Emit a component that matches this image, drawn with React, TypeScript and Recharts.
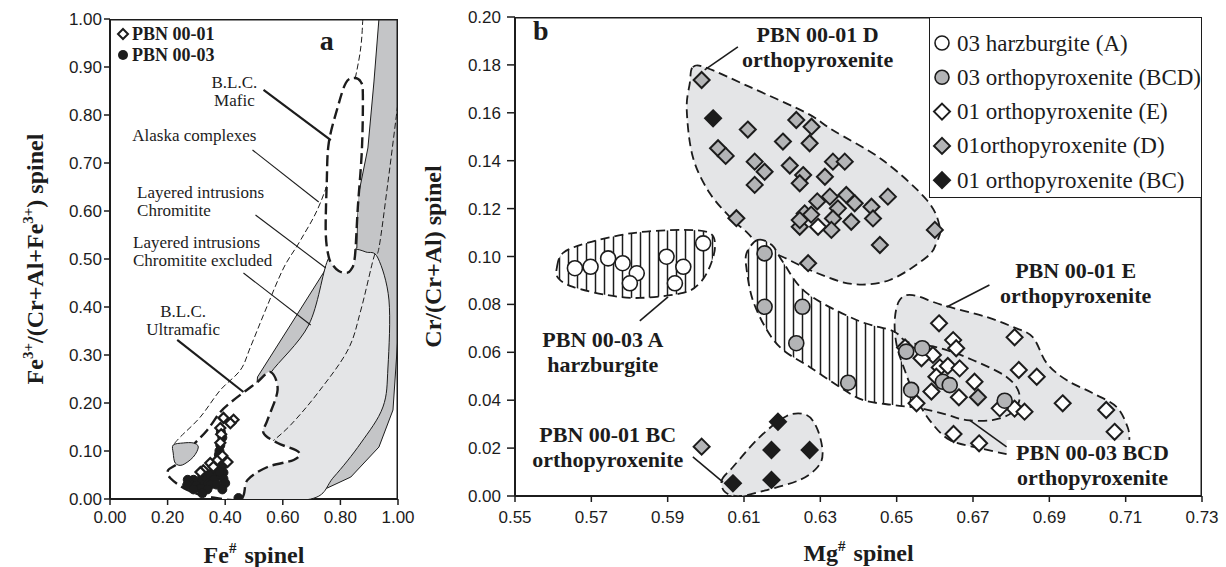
import React from 'react';
import { ScatterChart, Scatter, XAxis, YAxis } from 'recharts';

const SERIF = '"Liberation Serif", "Times New Roman", Times, serif';
const SANS = '"Liberation Sans", Arial, Helvetica, sans-serif';
const INK = '#1c1c1c';
const LIGHT = '#e4e5e7';
const DARK = '#c4c5c7';
const MARK_GRAY = '#b3b4b6';

// ---- axis ticks ----
const A_X_TICKS = [0, 0.2, 0.4, 0.6, 0.8, 1];
const A_Y_TICKS = [0, 0.1, 0.2, 0.3, 0.4, 0.5, 0.6, 0.7, 0.8, 0.9, 1];
const B_X_TICKS = [0.55, 0.57, 0.59, 0.61, 0.63, 0.65, 0.67, 0.69, 0.71, 0.73];
const B_Y_TICKS = [0, 0.02, 0.04, 0.06, 0.08, 0.1, 0.12, 0.14, 0.16, 0.18, 0.2];

// frame (top and right edges of each plot)
const FRAME_A = [[0, 1], [1, 1], [1, 0]];
const FRAME_B = [[0.55, 0.2], [0.73, 0.2], [0.73, 0]];

// ---- panel a: Fe# vs Fe3+/(Cr+Al+Fe3+) ----
const PBN01_A = [
  [0.394, 0.169], [0.429, 0.165], [0.418, 0.158], [0.383, 0.148], [0.386, 0.135], [0.383, 0.117],
  [0.373, 0.081], [0.408, 0.077], [0.348, 0.075], [0.359, 0.067], [0.324, 0.06], [0.314, 0.056], [0.39, 0.09],
];
const PBN03_A = [
  [0.385, 0.14], [0.39, 0.128], [0.383, 0.112], [0.38, 0.1], [0.378, 0.092], [0.385, 0.08], [0.39, 0.068],
  [0.394, 0.055], [0.394, 0.042], [0.4, 0.033], [0.37, 0.048], [0.36, 0.057], [0.38, 0.057], [0.345, 0.05],
  [0.36, 0.04], [0.338, 0.033], [0.35, 0.03], [0.37, 0.03], [0.39, 0.02], [0.32, 0.045], [0.31, 0.033],
  [0.29, 0.04], [0.27, 0.04], [0.28, 0.03], [0.3, 0.028], [0.314, 0.022], [0.338, 0.02], [0.268, 0.029],
  [0.29, 0.02], [0.32, 0.012], [0.446, 0.002],
];

// field outlines (panel a)
const LAYERED_ALL = [
  [0.9338, 1], [0.999, 1], [0.999, 0.3313], [0.9826, 0.1854], [0.9338, 0.1083], [0.8362, 0.0458], [0.7247, 0.0146],
  [0.662, 0], [0.4355, 0], [0.4878, 0.0604], [0.5122, 0.2542], [0.6376, 0.3729], [0.7735, 0.5021],
  [0.8188, 0.5146], [0.8571, 0.5229], [0.8606, 0.6271], [0.8955, 0.7313], [0.9164, 0.8688],
];
const LAYERED_EXCL = [
  [0.4355, 0], [0.4878, 0.0604], [0.5296, 0.1438], [0.5401, 0.2271], [0.5575, 0.2625], [0.6899, 0.3625],
  [0.7561, 0.4979], [0.8014, 0.5146], [0.8467, 0.5208], [0.8885, 0.5146], [0.9303, 0.5021], [0.9686, 0.4146],
  [0.9652, 0.275], [0.9477, 0.1917], [0.8711, 0.1167], [0.777, 0.0458], [0.6969, 0],
];
const ALASKA_LEFT = [
  [0.878, 1], [0.8641, 0.9146], [0.8014, 0.7479], [0.7317, 0.6188], [0.662, 0.5396], [0.6028, 0.4813],
  [0.5401, 0.3938], [0.4878, 0.3167], [0.453, 0.2688], [0.3833, 0.2271], [0.3136, 0.1708], [0.2439, 0.1292],
  [0.2195, 0.1125],
];
const ALASKA_RIGHT = [
  [0.999, 0.8208], [0.9652, 0.6604], [0.9338, 0.5229], [0.9164, 0.5042], [0.8711, 0.3938], [0.8258, 0.3104],
  [0.7213, 0.2208], [0.6272, 0.1542], [0.5575, 0.1167],
];
const BLC_ULTRAMAFIC = [
  [0.5575, 0.2646], [0.5819, 0.2271], [0.547, 0.1646], [0.5331, 0.1375], [0.5819, 0.1167], [0.655, 0.0979],
  [0.6376, 0.0813], [0.547, 0.0667], [0.4774, 0.0396], [0.453, 0], [0.3484, 0.0042], [0.2683, 0.0188],
  [0.2091, 0.0438], [0.2021, 0.0604], [0.2369, 0.075], [0.2892, 0.1125], [0.338, 0.1438], [0.3833, 0.1813],
  [0.4251, 0.2042], [0.4704, 0.225], [0.5122, 0.2438],
];
const BLC_MAFIC = [
  [0.8467, 0.8771], [0.8711, 0.8688], [0.878, 0.8417], [0.8746, 0.7271], [0.8606, 0.6083], [0.8502, 0.5042],
  [0.8362, 0.4771], [0.8188, 0.4708], [0.7944, 0.475], [0.7735, 0.4875], [0.7596, 0.5042], [0.7491, 0.5542],
  [0.7526, 0.6583], [0.7596, 0.7417], [0.7909, 0.8167], [0.8188, 0.8667],
];
const CHROMITITE_LENS = [
  [0.2195, 0.1125], [0.2544, 0.1167], [0.2892, 0.1167], [0.3066, 0.1083], [0.2892, 0.0875], [0.2509, 0.0708],
  [0.2265, 0.075], [0.2195, 0.0958],
];
const LEAD_MAFIC = [[0.5331, 0.8521], [0.7666, 0.7479]];
const LEAD_ALASKA = [[0.4948, 0.7271], [0.7247, 0.6188]];
const LEAD_CHROM = [[0.5052, 0.5917], [0.7491, 0.4813]];
const LEAD_EXCL = [[0.4634, 0.4708], [0.6969, 0.3625]];
const LEAD_ULTRA = [[0.2334, 0.3313], [0.4634, 0.2229]];

// ---- panel b: Mg# vs Cr/(Cr+Al) ----
const HARZ_03_A = [
  [0.5657, 0.0951], [0.5698, 0.0957], [0.5744, 0.0992], [0.5782, 0.0972], [0.5819, 0.093], [0.5801, 0.0888],
  [0.5897, 0.0999], [0.5941, 0.0957], [0.5919, 0.0888], [0.5993, 0.1055],
];
const OPX_03_BCD = [
  [0.6154, 0.1013], [0.6154, 0.079], [0.6253, 0.079], [0.6237, 0.0638], [0.6373, 0.0473], [0.6525, 0.0603],
  [0.6567, 0.0617], [0.6538, 0.0443], [0.6621, 0.0477], [0.6639, 0.0463], [0.6783, 0.0398],
];
const OPX_01_E = [
  [0.6611, 0.0721], [0.6648, 0.0651], [0.6656, 0.0617], [0.6595, 0.0589], [0.6565, 0.0575], [0.6613, 0.0537],
  [0.6634, 0.0543], [0.6665, 0.0533], [0.6604, 0.0498], [0.6704, 0.0477], [0.6591, 0.0436], [0.6663, 0.0412],
  [0.6809, 0.0663], [0.682, 0.0526], [0.6867, 0.0498], [0.6809, 0.0365], [0.6835, 0.0352], [0.677, 0.0366],
  [0.6935, 0.0387], [0.7049, 0.0359], [0.7071, 0.0268], [0.6649, 0.0259], [0.6716, 0.022], [0.6552, 0.0387],
  [0.6522, 0.062], [0.6294, 0.1124],
];
const OPX_01_D = [
  [0.5989, 0.1737], [0.6032, 0.1452], [0.6052, 0.142], [0.611, 0.153], [0.6128, 0.1396], [0.6154, 0.1354],
  [0.6128, 0.1299], [0.608, 0.116], [0.6202, 0.148], [0.6237, 0.157], [0.6277, 0.1542], [0.6272, 0.1473],
  [0.622, 0.138], [0.6255, 0.134], [0.6246, 0.1306], [0.6259, 0.118], [0.6246, 0.1124], [0.6268, 0.0972],
  [0.6333, 0.1396], [0.6364, 0.1396], [0.6312, 0.1333], [0.6325, 0.125], [0.6368, 0.1257], [0.6346, 0.1201],
  [0.639, 0.1222], [0.6434, 0.1208], [0.6477, 0.125], [0.6333, 0.1159], [0.6381, 0.1145], [0.6438, 0.1159],
  [0.6329, 0.1111], [0.6456, 0.1048], [0.66, 0.1111], [0.6246, 0.1152], [0.6276, 0.1175], [0.6292, 0.123],
  [0.5989, 0.0206], [0.6713, 0.0412],
];
const OPX_01_BC = [
  [0.6019, 0.1577], [0.6189, 0.031], [0.6172, 0.0192], [0.6272, 0.0192], [0.6071, 0.0053], [0.6172, 0.0067],
];

// field outlines (panel b)
const FIELD_D = [
  [0.5966, 0.1791], [0.6003, 0.1787], [0.6115, 0.1708], [0.6264, 0.1599], [0.6332, 0.1528], [0.6463, 0.1403],
  [0.6579, 0.1236], [0.6613, 0.1123], [0.6605, 0.1061], [0.6579, 0.0998], [0.6482, 0.0902], [0.6385, 0.0885],
  [0.6291, 0.0931], [0.6202, 0.0998], [0.6149, 0.1035], [0.6107, 0.1102], [0.6071, 0.1152], [0.601, 0.1265],
  [0.5966, 0.1415], [0.595, 0.1612], [0.5958, 0.1724],
];
const FIELD_A = [
  [0.561, 0.0956], [0.5626, 0.1015], [0.5688, 0.1056], [0.5809, 0.1098], [0.594, 0.1111], [0.601, 0.1098],
  [0.6024, 0.104], [0.601, 0.0956], [0.5984, 0.0889], [0.594, 0.0848], [0.5827, 0.0827], [0.5741, 0.0839],
  [0.5652, 0.0873], [0.5613, 0.091],
];
const FIELD_BCD = [
  [0.6136, 0.1069], [0.6107, 0.1015], [0.6107, 0.0944], [0.6123, 0.0818], [0.616, 0.0693], [0.6202, 0.061],
  [0.6272, 0.0539], [0.6351, 0.0455], [0.6411, 0.0401], [0.649, 0.038], [0.656, 0.0367], [0.6626, 0.0342],
  [0.6683, 0.0317], [0.6751, 0.0317], [0.6804, 0.0351], [0.6822, 0.0422], [0.6788, 0.0497], [0.6699, 0.0568],
  [0.6613, 0.0618], [0.6529, 0.0643], [0.649, 0.0689], [0.6395, 0.0735], [0.6264, 0.0848], [0.6202, 0.0977],
  [0.6173, 0.1048],
];
const FIELD_E = [
  [0.6788, 0.0175], [0.6717, 0.02], [0.6639, 0.0234], [0.6586, 0.0317], [0.6547, 0.0422], [0.6521, 0.0526],
  [0.65, 0.063], [0.6495, 0.0735], [0.6508, 0.0818], [0.6542, 0.0839], [0.662, 0.0797], [0.6736, 0.0747],
  [0.6804, 0.0706], [0.6856, 0.0664], [0.6893, 0.0555], [0.6945, 0.0484], [0.7013, 0.043], [0.7076, 0.0372],
  [0.7105, 0.0288], [0.711, 0.0234], [0.6788, 0.0234],
];
const FIELD_BC = [
  [0.6042, 0.0067], [0.6071, 0.0121], [0.6141, 0.0246], [0.6212, 0.0334], [0.6264, 0.0338], [0.6293, 0.0276],
  [0.6306, 0.018], [0.6293, 0.0121], [0.6246, 0.0067], [0.616, 0.0025], [0.6089, 0], [0.605, 0.0017],
];
const LEAD_D = [[0.6084, 0.1875], [0.5997, 0.1779]];
const LEAD_A = [[0.5827, 0.0731], [0.5901, 0.0831]];
const LEAD_BC = [[0.5966, 0.0163], [0.6045, 0.0058]];
const LEAD_E = [[0.6743, 0.0881], [0.6631, 0.0789]];
const LEAD_BCD = [[0.6788, 0.0205], [0.6691, 0.0317]];

// ---- text ----
const NOTES_A = [
  { x: 0.432, y: 0.856, lines: ['B.L.C.', 'Mafic'], kind: 'field', anchor: 'middle' },
  { x: 0.293, y: 0.746, lines: ['Alaska complexes'], kind: 'field', anchor: 'middle' },
  { x: 0.094, y: 0.627, lines: ['Layered intrusions', 'Chromitite'], kind: 'field', anchor: 'start' },
  { x: 0.08, y: 0.523, lines: ['Layered intrusions', 'Chromitite excluded'], kind: 'field', anchor: 'start' },
  { x: 0.254, y: 0.379, lines: ['B.L.C.', 'Ultramafic'], kind: 'field', anchor: 'middle' },
  { x: 0.753, y: 0.935, lines: ['a'], kind: 'panel', anchor: 'middle' },
];
const NOTES_B = [
  { x: 0.5547, y: 0.1904, lines: ['b'], kind: 'panel', anchor: 'start' },
  { x: 0.6293, y: 0.1896, lines: ['PBN 00-01 D', 'orthopyroxenite'], kind: 'group', anchor: 'middle' },
  { x: 0.573, y: 0.0622, lines: ['PBN 00-03 A', 'harzburgite'], kind: 'group', anchor: 'middle' },
  { x: 0.5743, y: 0.0225, lines: ['PBN 00-01 BC', 'orthopyroxenite'], kind: 'group', anchor: 'middle' },
  { x: 0.6969, y: 0.091, lines: ['PBN 00-01 E', 'orthopyroxenite'], kind: 'group', anchor: 'middle' },
  { x: 0.7013, y: 0.015, lines: ['PBN 00-03 BCD', 'orthopyroxenite'], kind: 'group', anchor: 'middle' },
];
const LEGEND_A = ['PBN 00-01', 'PBN 00-03'];
const LEGEND_B = [
  '03 harzburgite (A)',
  '03 orthopyroxenite (BCD)',
  '01 orthopyroxenite (E)',
  '01orthopyroxenite (D)',
  '01 orthopyroxenite (BC)',
];

const NOTE_STYLE: Record<string, { size: number; weight: number; lh: number }> = {
  field: { size: 17, weight: 400, lh: 18 },
  panel: { size: 28, weight: 700, lh: 0 },
  group: { size: 22, weight: 700, lh: 25 },
};

type Pt = { x: number; y: number };
const xy = (a: number[][]) => a.map(([x, y]) => ({ x, y }));

// Catmull-Rom through the scaled points
const curvePath = (p: Pt[], closed: boolean) => {
  const n = p.length;
  if (n < 2) return '';
  const at = (i: number) => (closed ? p[(i + n) % n] : p[Math.max(0, Math.min(n - 1, i))]);
  let d = `M${p[0].x},${p[0].y}`;
  const segs = closed ? n : n - 1;
  for (let i = 0; i < segs; i++) {
    const p0 = at(i - 1), p1 = at(i), p2 = at(i + 1), p3 = at(i + 2);
    d += `C${p1.x + (p2.x - p0.x) / 6},${p1.y + (p2.y - p0.y) / 6} ${p2.x - (p3.x - p1.x) / 6},${p2.y - (p3.y - p1.y) / 6} ${p2.x},${p2.y}`;
  }
  return closed ? d + 'Z' : d;
};
const straightPath = (p: Pt[], closed: boolean) =>
  p.map((q, i) => `${i ? 'L' : 'M'}${q.x},${q.y}`).join('') + (closed ? 'Z' : '');

type RegionStyle = {
  fill?: string; stroke?: string; width?: number; dash?: string;
  closed?: boolean; smooth?: boolean; tail?: number;
};

const region = (st: RegionStyle) => (props: any) => {
  const all: Pt[] = (props.points ?? []).filter((q: any) => q && Number.isFinite(q.x) && Number.isFinite(q.y));
  const tail = st.tail ?? 0;
  const body = tail ? all.slice(0, all.length - tail) : all;
  const rest = tail ? all.slice(all.length - tail) : [];
  const closed = (st.closed ?? true) && !tail;
  const build = st.smooth === false ? straightPath : curvePath;
  const outline = build(body, closed);
  const fillD = tail ? outline + rest.map((q) => `L${q.x},${q.y}`).join('') + 'Z' : outline;
  return (
    <g>
      {st.fill && <path d={fillD} fill={st.fill} stroke="none" />}
      {st.stroke && (
        <path d={outline} fill="none" stroke={st.stroke} strokeWidth={st.width ?? 1}
          strokeDasharray={st.dash} strokeLinejoin="round" />
      )}
    </g>
  );
};

const NoMark = () => <g />;
const circleMark = (r: number, fill: string, sw: number) => (p: any) => (
  <circle cx={p.cx} cy={p.cy} r={r} fill={fill} stroke={INK} strokeWidth={sw} />
);
const diamondMark = (h: number, fill: string, sw: number) => (p: any) => (
  <path d={`M${p.cx},${p.cy - h}L${p.cx + h},${p.cy}L${p.cx},${p.cy + h}L${p.cx - h},${p.cy}Z`}
    fill={fill} stroke={INK} strokeWidth={sw} />
);
const noteMark = (p: any) => {
  const n = p.payload;
  const s = NOTE_STYLE[n.kind];
  return (
    <text x={p.cx} y={p.cy} textAnchor={n.anchor} fontFamily={SERIF} fontSize={s.size}
      fontWeight={s.weight} fill={INK}>
      {n.lines.map((ln: string, i: number) => (
        <tspan key={i} x={p.cx} dy={i ? s.lh : 0}>{ln}</tspan>
      ))}
    </text>
  );
};

const fmt2 = (v: number) => v.toFixed(2);
const TICK = { fontFamily: SANS, fontSize: 17, fill: INK };
const TICK_LINE = { stroke: INK, strokeWidth: 1.5 };
const AXIS_LINE = { stroke: INK, strokeWidth: 2 };
const TITLE = { fontFamily: SERIF, fontWeight: 700, fontSize: 24, fill: INK };

const titleAX = (p: any) => {
  const vb = p.viewBox ?? { x: 110, y: 499, width: 288, height: 30 };
  return (
    <text x={vb.x + vb.width / 2} y={vb.y + 64} textAnchor="middle" {...TITLE}>
      Fe<tspan dy={-10} fontSize={15}>#</tspan><tspan dy={10} dx={8}>spinel</tspan>
    </text>
  );
};
const titleAY = (p: any) => {
  const vb = p.viewBox ?? { x: 50, y: 19, width: 60, height: 480 };
  const bx = vb.x - 7, cy = vb.y + vb.height / 2;
  return (
    <text x={bx} y={cy} transform={`rotate(-90 ${bx} ${cy})`} textAnchor="middle" {...TITLE}>
      Fe<tspan dy={-10} fontSize={15}>3+</tspan><tspan dy={10}>/(Cr+Al+Fe</tspan>
      <tspan dy={-10} fontSize={15}>3+</tspan><tspan dy={10}>) spinel</tspan>
    </text>
  );
};
const titleBX = (p: any) => {
  const vb = p.viewBox ?? { x: 95, y: 496, width: 687, height: 30 };
  return (
    <text x={vb.x + vb.width / 2} y={vb.y + 65} textAnchor="middle" {...TITLE}>
      Mg<tspan dy={-10} fontSize={15}>#</tspan><tspan dy={10} dx={8}>spinel</tspan>
    </text>
  );
};
const titleBY = (p: any) => {
  const vb = p.viewBox ?? { x: 35, y: 17, width: 60, height: 479 };
  const bx = vb.x - 14, cy = vb.y + vb.height / 2;
  return (
    <text x={bx} y={cy} transform={`rotate(-90 ${bx} ${cy})`} textAnchor="middle" {...TITLE}>
      Cr/(Cr+Al) spinel
    </text>
  );
};

const fieldScatter = (key: string, data: number[][], st: RegionStyle) => (
  <Scatter key={key} data={xy(data)} line={region(st)} shape={NoMark} isAnimationActive={false} />
);
const leadScatter = (key: string, data: number[][], w: number) =>
  fieldScatter(key, data, { stroke: INK, width: w, closed: false, smooth: false });

const THICK_DASH: RegionStyle = { fill: '#ffffff', stroke: INK, width: 2.4, dash: '11 5' };
const THIN_DASH: RegionStyle = { stroke: INK, width: 1, dash: '6 3', closed: false };
const B_DASH = { stroke: INK, width: 1.8, dash: '9 5' };

const PanelA = () => (
  <ScatterChart width={420} height={567} margin={{ top: 19, right: 22, bottom: 38, left: 50 }}>
    <XAxis dataKey="x" type="number" domain={[0, 1]} ticks={A_X_TICKS} interval={0} allowDataOverflow
      tickFormatter={fmt2} tick={TICK} tickSize={6} tickMargin={6} tickLine={TICK_LINE} axisLine={AXIS_LINE}
      height={30} label={titleAX} />
    <YAxis dataKey="y" type="number" domain={[0, 1]} ticks={A_Y_TICKS} interval={0} allowDataOverflow
      tickFormatter={fmt2} tick={TICK} tickSize={6} tickMargin={2} tickLine={TICK_LINE} axisLine={AXIS_LINE}
      width={60} label={titleAY} />

    {fieldScatter('layered', LAYERED_ALL, { fill: DARK, stroke: INK, width: 1, smooth: false })}
    {fieldScatter('excl', LAYERED_EXCL, { fill: LIGHT, stroke: INK, width: 1 })}
    {fieldScatter('alaskaL', ALASKA_LEFT, THIN_DASH)}
    {fieldScatter('alaskaR', ALASKA_RIGHT, THIN_DASH)}
    {fieldScatter('ultra', BLC_ULTRAMAFIC, THICK_DASH)}
    {fieldScatter('mafic', BLC_MAFIC, THICK_DASH)}
    {fieldScatter('lens', CHROMITITE_LENS, { fill: DARK, stroke: INK, width: 1 })}
    {leadScatter('l1', LEAD_MAFIC, 2.2)}
    {leadScatter('l2', LEAD_ALASKA, 1.1)}
    {leadScatter('l3', LEAD_CHROM, 1.1)}
    {leadScatter('l4', LEAD_EXCL, 1.1)}
    {leadScatter('l5', LEAD_ULTRA, 2.2)}
    {leadScatter('frame', FRAME_A, 3)}

    <Scatter name="PBN 00-03" data={xy(PBN03_A)} shape={circleMark(4.5, INK, 1)} isAnimationActive={false} />
    <Scatter name="PBN 00-01" data={xy(PBN01_A)} shape={diamondMark(5, '#ffffff', 2.2)} isAnimationActive={false} />
    <Scatter data={NOTES_A} shape={noteMark} isAnimationActive={false} />
  </ScatterChart>
);

const PanelB = () => (
  <ScatterChart width={806} height={567} margin={{ top: 17, right: 24, bottom: 41, left: 35 }}>
    <XAxis dataKey="x" type="number" domain={[0.55, 0.73]} ticks={B_X_TICKS} interval={0} allowDataOverflow
      tickFormatter={fmt2} tick={TICK} tickSize={6} tickMargin={9} tickLine={TICK_LINE} axisLine={AXIS_LINE}
      height={30} label={titleBX} />
    <YAxis dataKey="y" type="number" domain={[0, 0.2]} ticks={B_Y_TICKS} interval={0} allowDataOverflow
      tickFormatter={fmt2} tick={TICK} tickSize={8} tickMargin={6} tickLine={TICK_LINE} axisLine={AXIS_LINE}
      width={60} label={titleBY} />

    {fieldScatter('D', FIELD_D, { fill: LIGHT, ...B_DASH })}
    {fieldScatter('A', FIELD_A, { fill: 'url(#vhatch)', ...B_DASH })}
    {fieldScatter('BCDh', FIELD_BCD, { fill: 'url(#vhatch)' })}
    {fieldScatter('E', FIELD_E, { fill: LIGHT, ...B_DASH, tail: 1 })}
    {fieldScatter('BCDo', FIELD_BCD, { ...B_DASH })}
    {fieldScatter('BC', FIELD_BC, { fill: LIGHT, ...B_DASH })}
    {leadScatter('ld', LEAD_D, 1.6)}
    {leadScatter('la', LEAD_A, 1.6)}
    {leadScatter('lbc', LEAD_BC, 1.6)}
    {leadScatter('le', LEAD_E, 1.6)}
    {leadScatter('lbcd', LEAD_BCD, 1.6)}
    {leadScatter('frame', FRAME_B, 3)}

    <Scatter name={LEGEND_B[3]} data={xy(OPX_01_D)} shape={diamondMark(8, MARK_GRAY, 2)} isAnimationActive={false} />
    <Scatter name={LEGEND_B[2]} data={xy(OPX_01_E)} shape={diamondMark(8, '#ffffff', 2)} isAnimationActive={false} />
    <Scatter name={LEGEND_B[4]} data={xy(OPX_01_BC)} shape={diamondMark(8, INK, 2)} isAnimationActive={false} />
    <Scatter name={LEGEND_B[0]} data={xy(HARZ_03_A)} shape={circleMark(7.5, '#ffffff', 1.6)} isAnimationActive={false} />
    <Scatter name={LEGEND_B[1]} data={xy(OPX_03_BCD)} shape={circleMark(7.5, MARK_GRAY, 1.6)} isAnimationActive={false} />
    <Scatter data={NOTES_B} shape={noteMark} isAnimationActive={false} />
  </ScatterChart>
);

const legendIcon = (i: number, cx: number, cy: number) => {
  const dia = (h: number, fill: string) => (
    <path d={`M${cx},${cy - h}L${cx + h},${cy}L${cx},${cy + h}L${cx - h},${cy}Z`} fill={fill} stroke={INK} strokeWidth={2} />
  );
  if (i === 0) return <circle cx={cx} cy={cy} r={7} fill="#fff" stroke={INK} strokeWidth={1.6} />;
  if (i === 1) return <circle cx={cx} cy={cy} r={7} fill={MARK_GRAY} stroke={INK} strokeWidth={1.6} />;
  if (i === 2) return dia(8, '#fff');
  if (i === 3) return dia(8, MARK_GRAY);
  return dia(8, INK);
};

const LegendA = () => (
  <svg width={130} height={52} style={{ position: 'absolute', left: 110, top: 19, overflow: 'visible' }}>
    <path d="M13,10L18,15L13,20L8,15Z" fill="#fff" stroke={INK} strokeWidth={2} />
    <circle cx={13} cy={36} r={5} fill={INK} />
    {LEGEND_A.map((t, i) => (
      <text key={t} x={22} y={21 + i * 21} fontFamily={SERIF} fontWeight={700} fontSize={18} fill={INK}>{t}</text>
    ))}
  </svg>
);

const LegendB = () => (
  <div style={{
    position: 'absolute', left: 929, top: 17, width: 273, height: 181, boxSizing: 'border-box',
    border: `1.5px solid ${INK}`, background: '#fff',
  }}>
    <svg width={273} height={181} style={{ position: 'absolute', left: -1.5, top: -1.5, overflow: 'visible' }}>
      {LEGEND_B.map((t, i) => {
        const cy = 26 + i * 34.3;
        return (
          <g key={t}>
            {legendIcon(i, 13, cy)}
            <text x={28} y={cy + 7.5} fontFamily={SERIF} fontSize={23} fill={INK}>{t}</text>
          </g>
        );
      })}
    </svg>
  </div>
);

export default function App() {
  return (
    <div style={{ position: 'absolute', left: 0, top: 0, width: 1226, height: 567, background: '#fff', overflow: 'hidden' }}>
      <svg width={0} height={0} style={{ position: 'absolute' }}>
        <defs>
          <pattern id="vhatch" width={9} height={10} patternUnits="userSpaceOnUse">
            <rect width={9} height={10} fill="#fff" />
            <line x1={4.5} y1={0} x2={4.5} y2={10} stroke={INK} strokeWidth={1.5} />
          </pattern>
        </defs>
      </svg>
      <div style={{ position: 'absolute', left: 0, top: 0 }}><PanelA /></div>
      <div style={{ position: 'absolute', left: 420, top: 0 }}><PanelB /></div>
      <LegendA />
      <LegendB />
    </div>
  );
}
